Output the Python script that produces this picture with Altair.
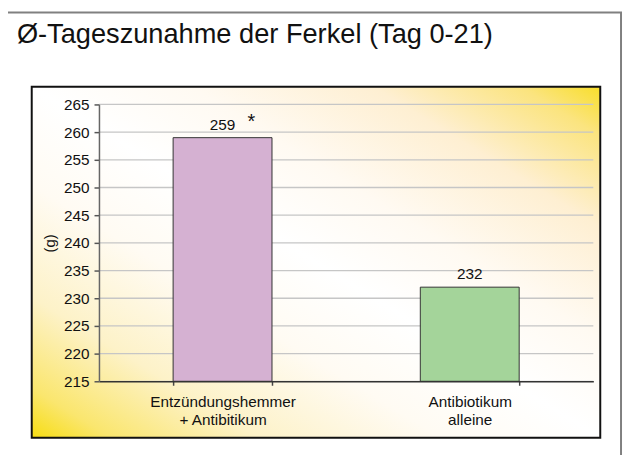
import altair as alt
import pandas as pd

# ---- data ----
title_text = "Ø-Tageszunahme der Ferkel (Tag 0-21)"
categories = ["Entzündungshemmer\n+ Antibitikum", "Antibiotikum\nalleine"]
values = [259, 232]
significance = ["*", ""]
bar_colors = ["#D5B1D2", "#A4D49A"]
y_ticks = [215, 220, 225, 230, 235, 240, 245, 250, 255, 260, 265]
y_title = "(g)"

FONT = "Liberation Sans"

df = pd.DataFrame({"cat": categories, "val": values, "sig": significance})
df_grid = pd.DataFrame({"val": y_ticks})
df_one = pd.DataFrame({"a": [0]})
df_title = pd.DataFrame({"t": [title_text]})

x_enc = alt.X(
    "cat:N",
    sort=categories,
    scale=alt.Scale(domain=categories, paddingInner=0.6, paddingOuter=0.3),
    axis=alt.Axis(
        title=None, labelAngle=0, labelFontSize=15.5, labelColor="#111",
        labelLineHeight=18, labelExpr="split(datum.label, '\\n')",
        labelBaseline="top", labelPadding=10,
        tickBand="extent", tickSize=4, tickColor="#444", tickWidth=1.5,
        domainColor="#333", domainWidth=1.5, grid=False, zindex=1,
    ),
)
y_enc = alt.Y(
    "val:Q",
    scale=alt.Scale(domain=[y_ticks[0], y_ticks[-1]], nice=False, zero=False),
    axis=alt.Axis(
        values=y_ticks, grid=False, tickSize=5, tickColor="#555", tickWidth=1.5,
        labelPadding=5, labelFontSize=15.5, labelColor="#111",
        domainColor="#666", domainWidth=1.5, zindex=1,
        title=y_title, titleFontSize=15, titleFontWeight="normal", titleColor="#111",
        titleAngle=-90, titleX=-50, titleY=140, titleAlign="center", titleBaseline="middle",
    ),
)

outer = alt.Chart(df_one).mark_rect(fill="white", stroke="#808080", strokeWidth=2).encode(
    x=alt.value(-96), x2=alt.value(528), y=alt.value(-93), y2=alt.value(420)
)

gradient = {
    "gradient": "linear",
    "x1": 0, "y1": 1, "x2": 1, "y2": 0,
    "stops": [
        {"offset": 0.0, "color": "#F7DD12"},
        {"offset": 0.07, "color": "#FAE66E"},
        {"offset": 0.2, "color": "#FDF2C8"},
        {"offset": 0.36, "color": "#FFFBF3"},
        {"offset": 0.5, "color": "#FFFFFF"},
        {"offset": 0.64, "color": "#FFFAF2"},
        {"offset": 0.8, "color": "#FEEFD2"},
        {"offset": 0.93, "color": "#FBE47F"},
        {"offset": 1.0, "color": "#F8DE2A"},
    ],
}
inner = alt.Chart(df_one).mark_rect(fill=gradient, stroke="#111", strokeWidth=2).encode(
    x=alt.value(-68), x2=alt.value(507), y=alt.value(-18), y2=alt.value(337)
)

grid = alt.Chart(df_grid).mark_rule(color="#C6C6C6", strokeWidth=1.3).encode(y=y_enc)

base = alt.Chart(df).encode(x=x_enc, y=y_enc)
bars = base.mark_bar(stroke="#333", strokeWidth=1).encode(
    y2=alt.datum(y_ticks[0]),
    color=alt.Color("cat:N", scale=alt.Scale(domain=categories, range=bar_colors), legend=None),
)
labels = base.mark_text(fontSize=15.5, dy=-8, baseline="alphabetic", color="#111").encode(
    text=alt.Text("val:Q")
)
stars = base.mark_text(fontSize=20, dx=29, dy=-10, baseline="alphabetic", color="#111").encode(
    text="sig:N"
)
title = alt.Chart(df_title).mark_text(
    fontSize=27.5, align="left", baseline="alphabetic", color="#111"
).encode(x=alt.value(-83), y=alt.value(-62), text="t:N")

chart = (
    alt.layer(outer, inner, grid, bars, labels, stars, title)
    .properties(
        width=500, height=280,
        autosize=alt.AutoSizeParams(type="none"),
        padding={"left": 92, "top": 95, "right": 30, "bottom": 72},
    )
    .configure(font=FONT)
    .configure_view(stroke=None)
)

chart.save("out.html", embed_options={"renderer": "svg", "actions": False})
